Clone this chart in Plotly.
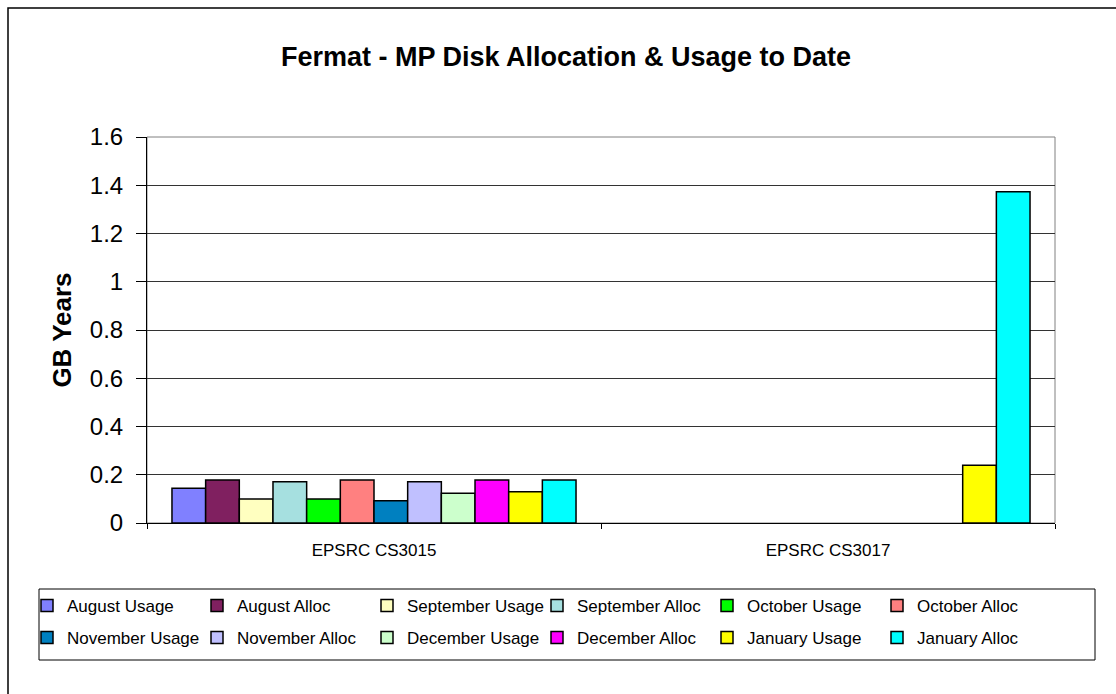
import plotly.graph_objects as go

categories = ["EPSRC CS3015", "EPSRC CS3017"]
series_names = [
    "August Usage", "August Alloc", "September Usage", "September Alloc",
    "October Usage", "October Alloc", "November Usage", "November Alloc",
    "December Usage", "December Alloc", "January Usage", "January Alloc",
]
august_usage = [0.144, None]
august_alloc = [0.178, None]
september_usage = [0.100, None]
september_alloc = [0.171, None]
october_usage = [0.100, None]
october_alloc = [0.178, None]
november_usage = [0.092, None]
november_alloc = [0.171, None]
december_usage = [0.123, None]
december_alloc = [0.178, None]
january_usage = [0.130, 0.239]
january_alloc = [0.178, 1.373]

series_values = [
    august_usage, august_alloc, september_usage, september_alloc,
    october_usage, october_alloc, november_usage, november_alloc,
    december_usage, december_alloc, january_usage, january_alloc,
]
colors = [
    "#8080FF", "#802060", "#FFFFC0", "#A6E0E0",
    "#00FF00", "#FF8080", "#0080C0", "#C0C0FF",
    "#CCFFCC", "#FF00FF", "#FFFF00", "#00FFFF",
]
y_tick_vals = [0, 0.2, 0.4, 0.6, 0.8, 1.0, 1.2, 1.4, 1.6]
y_tick_text = ["0", "0.2", "0.4", "0.6", "0.8", "1", "1.2", "1.4", "1.6"]

FONT = "Arial, Liberation Sans, sans-serif"

fig = go.Figure()
for i, (name, vals, col) in enumerate(zip(series_names, series_values, colors)):
    fig.add_trace(go.Bar(
        x=categories, y=vals, name=name,
        legend="legend" if i < 6 else "legend2",
        marker=dict(color=col, line=dict(color="#000000", width=1.5)),
    ))

# pixel -> paper helpers (plot area: x 147..1055, y 137..523)
L, R, T, B = 147, 1055, 137, 523
def px(x):
    return (x - L) / (R - L)
def py(y):
    return (B - y) / (B - T)

shapes = [
    # outer chart border (extends past image on right/bottom)
    dict(type="rect", xref="paper", yref="paper",
         x0=px(8), x1=px(1140), y0=py(720), y1=py(8),
         line=dict(color="#000000", width=1.5), layer="below"),
    # plot area border
    dict(type="rect", xref="paper", yref="paper",
         x0=0, x1=1, y0=0, y1=1,
         line=dict(color="#808080", width=1), layer="below"),
    # legend box
    dict(type="rect", xref="paper", yref="paper",
         x0=px(39), x1=px(1095), y0=py(660), y1=py(589),
         line=dict(color="#000000", width=1), layer="below"),
]

legend_common = dict(orientation="h", xanchor="left", yanchor="top",
                     entrywidth=125, entrywidthmode="pixels",
                     font=dict(size=17, family=FONT), traceorder="normal",
                     bgcolor="rgba(0,0,0,0)", borderwidth=0)

fig.update_layout(
    width=1116, height=694,
    margin=dict(l=L, r=1116 - R, t=T, b=694 - B),
    paper_bgcolor="white", plot_bgcolor="white",
    font=dict(family=FONT, color="#000000"),
    title=dict(text="<b>Fermat - MP Disk Allocation & Usage to Date</b>",
               x=566 / 1116, xref="container", xanchor="center",
               y=1 - 57 / 694, yref="container", yanchor="middle",
               font=dict(size=27, family=FONT, color="#000000")),
    barmode="group", bargap=0.11, bargroupgap=0,
    showlegend=True,
    legend=dict(x=px(27), y=py(588), **legend_common),
    legend2=dict(x=px(27), y=py(620), **legend_common),
    shapes=shapes,
)
fig.update_yaxes(
    range=[0, 1.6], tickvals=y_tick_vals, ticktext=y_tick_text,
    showgrid=True, gridcolor="#333333", gridwidth=1,
    showline=True, linecolor="#000000", linewidth=1,
    ticks="outside", ticklen=10, tickcolor="#000000",
    ticklabelstandoff=8,
    tickfont=dict(size=24, family=FONT),
    title=dict(text="<b>GB Years</b>", font=dict(size=26, family=FONT), standoff=10),
    zeroline=False,
)
fig.update_xaxes(
    showline=True, linecolor="#000000", linewidth=1,
    ticks="outside", ticklen=5, tickcolor="#000000", tickson="boundaries",
    ticklabelstandoff=12,
    tickfont=dict(size=17, family=FONT),
    showgrid=False,
)

fig.write_html("out.html",
               config={"displayModeBar": False},
               post_script="document.body.style.margin='0';document.documentElement.style.overflow='hidden';")
